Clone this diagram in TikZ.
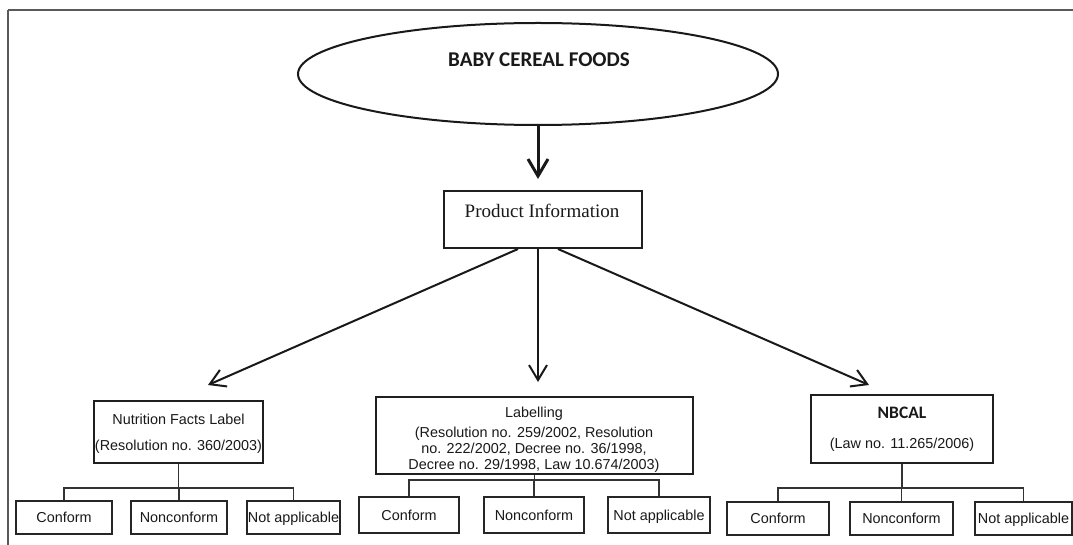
\documentclass[tikz,border=0pt]{standalone}
\usepackage{fontspec}
\setmainfont{Liberation Serif}
\newfontfamily\arialf{Liberation Sans}
\newfontfamily\calf{Carlito}
\usetikzlibrary{arrows.meta,calc,shapes.geometric}
\tikzset{
  frameline/.style={draw=black!65, line width=1.5pt},
  mainbox/.style={draw=black!88, line width=2pt, rectangle, inner sep=0pt},
  leaf/.style={draw=black!85, line width=1.6pt, rectangle, inner sep=0pt,
    minimum height=33pt, text height=10.4pt, text depth=0pt,
    font=\arialf\fontsize{14.4}{16}\selectfont, text=black!90},
  txt/.style={anchor=base, inner sep=0pt, font=\arialf\fontsize{14.4}{16}\selectfont, text=black!90},
  tree/.style={draw=black!80, line width=1.5pt},
  arr/.style={draw=black!90, line width=2pt, -{Straight Barb[length=15pt,width=18pt]}}
}
\begin{document}
\begin{tikzpicture}[x=1pt,y=-1pt]
\useasboundingbox (0,0) rectangle (1073,545);
\fill[white] (0,0) rectangle (1073,545);
% frame
\draw[frameline] (8,10) -- (1073,10);
\draw[frameline] (8,10) -- (8,545);

% top ellipse
\node[draw=black!90, ellipse, line width=2pt, minimum width=480pt, minimum height=102pt, inner sep=0pt] (ell) at (538,74) {};
\node[anchor=base, inner sep=0pt, font=\calf\bfseries\fontsize{21}{24}\selectfont, text=black!90] (ellt) at (539,66.5) {BABY CEREAL FOODS};

% product information
\node[mainbox, minimum width=198pt, minimum height=57pt] (prod) at (543,219.5) {};
\node[anchor=base, inner sep=0pt, font=\fontsize{19}{22}\selectfont, text=black!90] (prodt) at (542,218) {Product Information};

\draw[draw=black!90, line width=3pt, -{Straight Barb[length=17pt,width=20pt]}]
  (ell.south) -- ($(ell.south |- prod.north)+(0,-11)$);

% level 2 boxes
\node[mainbox, minimum width=169pt, minimum height=62pt] (nfl) at (178.5,432) {};
\node[txt] (nflt1) at (178.5,424) {Nutrition Facts Label};
\node[txt] (nflt2) at (178.5,450) {(Resolution no. 360/2003)};

\node[mainbox, minimum width=317pt, minimum height=77pt] (lab) at (534.5,435.5) {};
\node[txt] (labt1) at (534,417) {Labelling};
\node[txt] (labt2) at (534,437) {(Resolution no. 259/2002, Resolution};
\node[txt] (labt3) at (534,453.5) {no. 222/2002, Decree no. 36/1998,};
\node[txt] (labt4) at (534,469) {Decree no. 29/1998, Law 10.674/2003)};

\node[mainbox, minimum width=182pt, minimum height=68pt] (nb) at (902,429) {};
\node[anchor=base, inner sep=0pt, font=\calf\bfseries\fontsize{17.5}{20}\selectfont, text=black!90] (nbt1) at (902,418) {NBCAL};
\node[txt] (nbt2) at (902,448) {(Law no. 11.265/2006)};

% arrows from product information
\coordinate (s1) at ($(prod.south)+(-25,0)$);
\coordinate (s2) at ($(prod.south)+(-5,0)$);
\coordinate (s3) at ($(prod.south)+(15,0)$);
\coordinate (e1) at (208,385);
\coordinate (e2) at (538,382);
\coordinate (e3) at (869,385);
\draw[arr] (s1) -- (e1);
\draw[arr] (s2) -- (e2);
\draw[arr] (s3) -- (e3);

% group 1 leaves
\node[leaf, minimum width=96pt] (c1) at (64,517.5) {Conform};
\node[leaf, minimum width=96pt] (n1) at (179,517.5) {Nonconform};
\node[leaf, minimum width=93pt] (a1) at (293.5,517.5) {Not applicable};
\coordinate (j1) at (179,488);
\draw[tree] (nfl.south) -- (nfl.south |- j1);
\draw[tree] (c1.north) -- (c1.north |- j1) -- (a1.north |- j1) -- (a1.north);
\draw[tree] (n1.north) -- (n1.north |- j1);

% group 2 leaves
\node[leaf, minimum width=100pt, minimum height=36pt] (c2) at (409,515) {Conform};
\node[leaf, minimum width=100pt, minimum height=36pt] (n2) at (534,515) {Nonconform};
\node[leaf, minimum width=102pt, minimum height=36pt] (a2) at (659,515) {Not applicable};
\coordinate (j2) at (534,480);
\draw[tree] (lab.south) -- (lab.south |- j2);
\draw[tree] (c2.north) -- (c2.north |- j2) -- (a2.north |- j2) -- (a2.north);
\draw[tree] (n2.north) -- (n2.north |- j2);

% group 3 leaves
\node[leaf, minimum width=102pt] (c3) at (778,518.5) {Conform};
\node[leaf, minimum width=103pt] (n3) at (901.5,518.5) {Nonconform};
\node[leaf, minimum width=97pt] (a3) at (1023.5,518.5) {Not applicable};
\coordinate (j3) at (902,488);
\draw[tree] (nb.south) -- (nb.south |- j3);
\draw[tree] (c3.north) -- (c3.north |- j3) -- (a3.north |- j3) -- (a3.north);
\draw[tree] (n3.north) -- (n3.north |- j3);
\end{tikzpicture}
\end{document}
